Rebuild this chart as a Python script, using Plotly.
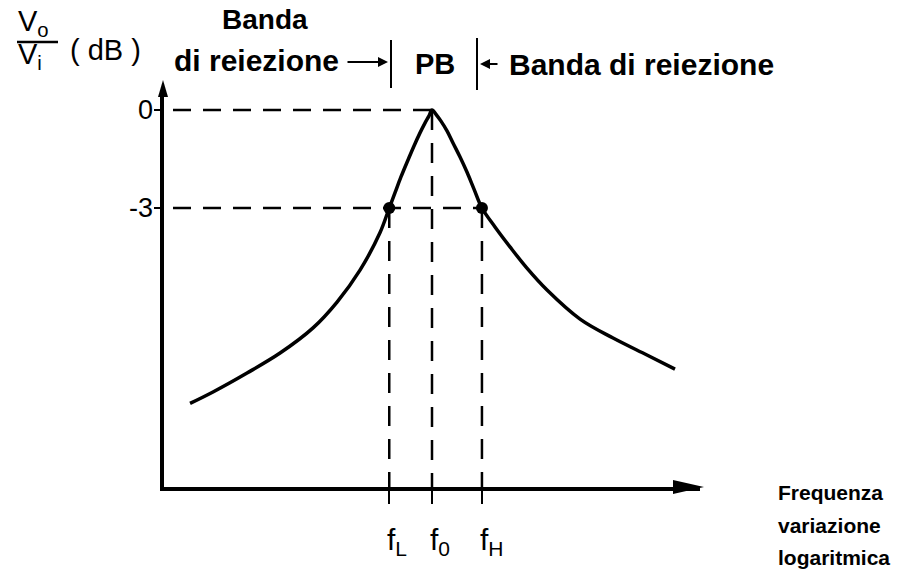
import plotly.graph_objects as go

# risposta del filtro passa-banda
# ascissa: log10(f / f0), ordinata: guadagno in dB
log_freq = [-1.613, -1.46, -1.233, -1.013, -0.793, -0.633, -0.48, -0.347, -0.285,
            -0.247, -0.207, -0.16, -0.12, -0.08, -0.047, -0.02, 0.0,
            0.033, 0.06, 0.10, 0.14, 0.187, 0.233, 0.28, 0.333,
            0.42, 0.52, 0.633, 0.767, 0.987, 1.207, 1.433, 1.62]
gain_db = [-8.98, -8.63, -8.05, -7.44, -6.67, -5.88, -4.90, -3.76, -3.0,
           -2.54, -2.05, -1.53, -1.10, -0.70, -0.40, -0.18, 0.0,
           -0.17, -0.34, -0.64, -1.01, -1.44, -1.90, -2.42, -3.0,
           -3.58, -4.19, -4.84, -5.51, -6.40, -6.98, -7.50, -7.93]

# frequenze notevoli
freq_names = ["f<sub>L</sub>", "f<sub>0</sub>", "f<sub>H</sub>"]
freq_pos = [-0.285, 0.0, 0.333]
freq_gain = [-3, 0, -3]

# livelli sull'asse verticale
level_db = [0, -3]
level_text = ["0", "-3"]

FONT = "Liberation Sans, Arial, sans-serif"
W, H = 913, 581
# area del grafico in pixel: x 164..700, y 92..487
L, T = 164, 92
R, B = W - 700, H - 487
PW, PH = W - L - R, H - T - B
X_RANGE = [-1.7867, 1.7867]
Y_RANGE = [-11.54, 0.551]


def px(x):
    return (x - L) / PW


def py(y):
    return (H - B - y) / PH


fig = go.Figure()

fig.add_trace(go.Scatter(
    x=log_freq, y=gain_db, mode="lines",
    line=dict(color="black", width=3.5, shape="spline", smoothing=1.0, simplify=False),
    hoverinfo="skip", cliponaxis=False
))

# punti a -3 dB
dot_x = [f for f, g in zip(freq_pos, freq_gain) if g == -3]
fig.add_trace(go.Scatter(
    x=dot_x, y=[-3] * len(dot_x), mode="markers",
    marker=dict(color="black", size=12), hoverinfo="skip", cliponaxis=False
))

shapes = []
# tratteggi orizzontali fino al punto piu' a destra del livello
for lv in level_db:
    x_end = max(f for f, g in zip(freq_pos, freq_gain) if g == lv)
    shapes.append(dict(type="line", xref="x", yref="y", x0=X_RANGE[0] + 0.06, x1=x_end,
                       y0=lv, y1=lv, line=dict(color="black", width=2.5, dash="18px,12px")))
# tratteggi verticali
for f, g in zip(freq_pos, freq_gain):
    shapes.append(dict(type="line", xref="x", yref="y", x0=f, x1=f, y0=g, y1=Y_RANGE[0],
                       line=dict(color="black", width=2.5, dash="20px,13px")))

# barrette della banda passante
shapes.append(dict(type="line", xref="paper", yref="paper", x0=px(391), x1=px(391),
                   y0=py(40), y1=py(88), line=dict(color="black", width=2)))
shapes.append(dict(type="line", xref="paper", yref="paper", x0=px(477), x1=px(477),
                   y0=py(38), y1=py(90), line=dict(color="black", width=2)))
# linea di frazione Vo/Vi
shapes.append(dict(type="line", xref="paper", yref="paper", x0=px(17), x1=px(58),
                   y0=py(42), y1=py(42), line=dict(color="black", width=2.5)))

# punte delle frecce degli assi
shapes.append(dict(type="path", xref="paper", yref="paper", xsizemode="pixel", ysizemode="pixel",
                   xanchor=1, yanchor=0, path="M 4 0 L -27 7 L -27 -7 Z",
                   fillcolor="black", line=dict(width=0)))
shapes.append(dict(type="path", xref="paper", yref="paper", xsizemode="pixel", ysizemode="pixel",
                   xanchor=0, yanchor=1, path="M -1 12 L -6 -5 L 4 -5 Z",
                   fillcolor="black", line=dict(width=0)))

ann = []


def text(x, y, s, size, bold=False, xanchor="center"):
    ann.append(dict(x=px(x), y=py(y), xref="paper", yref="paper",
                    text=f"<b>{s}</b>" if bold else s,
                    showarrow=False, xanchor=xanchor, yanchor="middle",
                    font=dict(family=FONT, size=size, color="black")))


text(265, 20, "Banda", 28, bold=True)
text(172, 60, "di reiezione", 30, bold=True, xanchor="left")
text(435, 64, "PB", 29, bold=True)
text(507, 64, "Banda di reiezione", 30, bold=True, xanchor="left")

text(16, 23, "V<sub>o</sub>", 29, xanchor="left")
text(16, 56, "V<sub>i</sub>", 29, xanchor="left")
text(105, 50, "( dB )", 29)

text(776, 492, "Frequenza", 21, bold=True, xanchor="left")
text(776, 525, "variazione", 21, bold=True, xanchor="left")
text(776, 557, "logaritmica", 21, bold=True, xanchor="left")

# etichette dei livelli (0, -3) vicino all'asse
for lv, lt in zip(level_db, level_text):
    ann.append(dict(x=px(155), y=lv, xref="paper", yref="y", text=lt, showarrow=False,
                    xanchor="right", yanchor="middle",
                    font=dict(family=FONT, size=27, color="black")))

for name, f in zip(freq_names, freq_pos):
    ann.append(dict(x=f, y=py(541), xref="x", yref="paper", text=name, showarrow=False,
                    xanchor="left", xshift=-4, yanchor="middle",
                    font=dict(family=FONT, size=30, color="black")))

# frecce delle bande di reiezione
ann.append(dict(x=px(388), y=py(62), xref="paper", yref="paper", text="", showarrow=True,
                ax=-42, ay=0, arrowhead=2, arrowsize=1, arrowwidth=2, arrowcolor="black"))
ann.append(dict(x=px(480), y=py(64), xref="paper", yref="paper", text="", showarrow=True,
                ax=19, ay=0, arrowhead=2, arrowsize=1, arrowwidth=2, arrowcolor="black"))

fig.update_layout(
    width=W, height=H,
    margin=dict(l=L, r=R, t=T, b=B, autoexpand=False),
    paper_bgcolor="white", plot_bgcolor="white",
    showlegend=False,
    shapes=shapes, annotations=ann,
    xaxis=dict(range=X_RANGE, showgrid=False, zeroline=False,
               showline=True, linewidth=3.5, linecolor="black",
               ticks="outside", tickvals=freq_pos, ticklen=13, tickwidth=2, tickcolor="black",
               showticklabels=False),
    yaxis=dict(range=Y_RANGE, showgrid=False, zeroline=False,
               showline=True, linewidth=3.5, linecolor="black",
               ticks="outside", tickvals=level_db, ticklen=6, tickwidth=2, tickcolor="black",
               showticklabels=False),
)

# la pagina html ha un margine di 8px di default: lo azzero
fig.write_html("out.html", config={"displayModeBar": False},
               post_script="document.body.style.margin='0px';")
